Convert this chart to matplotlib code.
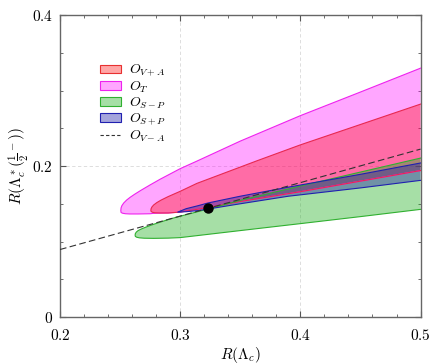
import matplotlib
matplotlib.use("Agg")
import matplotlib.pyplot as plt
from matplotlib.patches import Patch
from matplotlib.lines import Line2D
import numpy as np

plt.rcParams["mathtext.fontset"] = "cm"
plt.rcParams["font.family"] = ["serif"]
plt.rcParams["font.serif"] = ["cmr10", "DejaVu Serif"]
plt.rcParams["axes.formatter.use_mathtext"] = True

# O_T (magenta)
t_x_up = [0.2506, 0.2508, 0.2515, 0.253, 0.2555, 0.2583, 0.262, 0.267, 0.275, 0.2833, 0.30, 0.3139, 0.35, 0.40, 0.45, 0.50]
t_y_up = [0.1410, 0.1445, 0.1475, 0.1510, 0.1550, 0.1585, 0.1625, 0.1675, 0.1750, 0.1825, 0.1965, 0.2065, 0.2330, 0.2667, 0.2980, 0.3296]
t_x_lo = [0.2506, 0.2508, 0.2520, 0.2545, 0.258, 0.265, 0.275, 0.2756, 0.277, 0.279, 0.283, 0.29, 0.30, 0.323, 0.35, 0.40, 0.45, 0.50]
t_y_lo = [0.1410, 0.1385, 0.1375, 0.1368, 0.1365, 0.1365, 0.1368, 0.1369, 0.1372, 0.1374, 0.1376, 0.1378, 0.139, 0.145, 0.153, 0.166, 0.180, 0.194]

# O_{V+A} (red)
va_x_up = [0.2756, 0.2758, 0.2765, 0.278, 0.2805, 0.284, 0.29, 0.30, 0.3139, 0.364, 0.40, 0.45, 0.50]
va_y_up = [0.1413, 0.1435, 0.1458, 0.1485, 0.1515, 0.1548, 0.1595, 0.1665, 0.1770, 0.2070, 0.2280, 0.2550, 0.2820]
va_x_lo = [0.2756, 0.2758, 0.277, 0.279, 0.283, 0.29, 0.30, 0.323, 0.35, 0.40, 0.45, 0.50]
va_y_lo = [0.1413, 0.1398, 0.1387, 0.1381, 0.1378, 0.1378, 0.139, 0.145, 0.153, 0.166, 0.180, 0.194]

# O_{S-P} (green)
sp_x_up = [0.2625, 0.2627, 0.2635, 0.265, 0.2675, 0.271, 0.276, 0.283, 0.293, 0.30, 0.323, 0.35, 0.40, 0.45, 0.50]
sp_y_up = [0.1085, 0.1105, 0.1125, 0.1145, 0.1165, 0.1188, 0.1218, 0.1255, 0.1305, 0.1335, 0.1430, 0.1545, 0.1735, 0.1920, 0.2105]
sp_x_lo = [0.2625, 0.2627, 0.2638, 0.266, 0.27, 0.278, 0.29, 0.30, 0.35, 0.40, 0.45, 0.50]
sp_y_lo = [0.1085, 0.1068, 0.1057, 0.1049, 0.1044, 0.1042, 0.1045, 0.1052, 0.1145, 0.1237, 0.1330, 0.1426]

# O_{S+P} (blue)
spp_x = [0.298, 0.305, 0.315, 0.323, 0.35, 0.39, 0.45, 0.50]
spp_y_up = [0.139, 0.1435, 0.1475, 0.151, 0.160, 0.172, 0.189, 0.204]
spp_y_lo = [0.139, 0.1395, 0.141, 0.143, 0.150, 0.160, 0.171, 0.181]

# O_{V-A} line and SM point
vma_x = [0.2, 0.3, 0.4, 0.5]
vma_y = [0.0894, 0.1337, 0.178, 0.2224]
sm_x, sm_y = 0.323, 0.144

x_ticks = [0.2, 0.3, 0.4, 0.5]
x_labels = ["$0.2$", "$0.3$", "$0.4$", "$0.5$"]
y_ticks = [0.0, 0.2, 0.4]
y_labels = ["$0$", "$0.2$", "$0.4$"]


fig = plt.figure(figsize=(4.36, 3.64), dpi=100)
ax = fig.add_axes([0.1376, 0.129, 0.827, 0.8298])

styles = {
    "T": dict(fc="#ff00ff", ec="#ee22ee", alpha=0.35),
    "VA": dict(fc="#ff0000", ec="#e82850", alpha=0.35),
    "SP": dict(fc="#22b022", ec="#30b030", alpha=0.4),
    "SPP": dict(fc="#2020a8", ec="#2020b0", alpha=0.4),
}

for key, (xu, yu, xl, yl) in [
    ("T", (t_x_up, t_y_up, t_x_lo, t_y_lo)),
    ("VA", (va_x_up, va_y_up, va_x_lo, va_y_lo)),
    ("SP", (sp_x_up, sp_y_up, sp_x_lo, sp_y_lo)),
    ("SPP", (spp_x, spp_y_up, spp_x, spp_y_lo)),
]:
    s = styles[key]
    xs = list(xu) + list(xl[::-1])
    ys = list(yu) + list(yl[::-1])
    ax.fill(xs, ys, facecolor=s["fc"], alpha=s["alpha"], edgecolor="none", zorder=2)
    # outline only along the curves, not the clip at x = 0.5
    ax.plot(list(xu[::-1]) + list(xl), list(yu[::-1]) + list(yl),
            color=s["ec"], lw=0.8, zorder=3, solid_joinstyle="round")

ax.plot(vma_x, vma_y, color="#333333", lw=0.8, ls=(0, (6, 3)), zorder=4)
ax.plot([sm_x], [sm_y], "o", color="black", ms=6.5, zorder=5)

ax.set_xlim(0.2, 0.5)
ax.set_ylim(0, 0.4)
ax.set_xticks(x_ticks, labels=x_labels)
ax.set_yticks(y_ticks, labels=y_labels)
ax.set_xticks(np.arange(0.2, 0.5001, 0.02), minor=True)
ax.set_yticks(np.arange(0.0, 0.4001, 0.05), minor=True)
ax.tick_params(which="both", direction="in", top=True, right=True, labelsize=11, colors="#555555", labelcolor="black")
ax.tick_params(which="major", length=4, width=0.8)
ax.tick_params(which="minor", length=2.5, width=0.6)
ax.tick_params(axis="x", which="major", pad=8)
ax.tick_params(axis="y", which="major", pad=5)
ax.grid(True, which="major", color="#d8d8d8", ls=(0, (4, 3)), lw=0.6)
ax.set_axisbelow(True)
for sp in ax.spines.values():
    sp.set_color("#666666")
    sp.set_linewidth(1.0)

ax.set_xlabel(r"$R(\Lambda_c)$", fontsize=11, labelpad=1)
ax.set_ylabel(r"$R(\Lambda_c^*(\frac{1}{2}^-))$", fontsize=11, labelpad=1)

handles = [
    Patch(facecolor=(1, 0, 0, 0.35), edgecolor="#e83030", lw=0.8),
    Patch(facecolor=(1, 0, 1, 0.35), edgecolor="#ee22ee", lw=0.8),
    Patch(facecolor=(0.13, 0.69, 0.13, 0.4), edgecolor="#30b030", lw=0.8),
    Patch(facecolor=(0.125, 0.125, 0.66, 0.4), edgecolor="#2020b0", lw=0.8),
    Line2D([0], [0], color="#333333", lw=0.8, ls=(0, (3, 2))),
]
labels = ["$O_{V+A}$", "$O_T$", "$O_{S-P}$", "$O_{S+P}$", "$O_{V-A}$"]
ax.legend(handles, labels, loc="upper left", bbox_to_anchor=(0.095, 0.86), frameon=False,
          fontsize=10, handlelength=1.5, handleheight=0.6, labelspacing=0.05,
          handletextpad=0.6, borderaxespad=0)

fig.savefig("out.png", dpi=100)
